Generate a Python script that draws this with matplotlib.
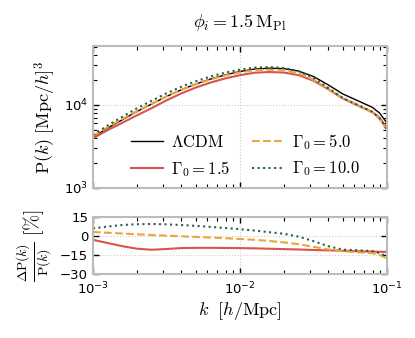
import numpy as np
import matplotlib
matplotlib.use("Agg")
import matplotlib.pyplot as plt

# log10(k [h/Mpc]) sample points
logk = [-3.0, -2.9, -2.8, -2.7, -2.6, -2.5, -2.4, -2.3, -2.2, -2.1, -2.0,
        -1.9, -1.8, -1.7, -1.6, -1.5, -1.4, -1.3, -1.2, -1.1, -1.05, -1.0]

# log10 of LCDM power spectrum
logP_lcdm = [3.61, 3.72, 3.82, 3.92, 4.01, 4.10, 4.18, 4.25, 4.31, 4.36, 4.40,
             4.43, 4.44, 4.435, 4.405, 4.34, 4.24, 4.13, 4.05, 3.97, 3.90, 3.78]

# relative difference w.r.t. LCDM [%]
dP_g15 = [-3.0, -5.5, -8.0, -10.0, -10.8, -10.2, -9.5, -9.3, -9.3, -9.4, -9.5,
          -9.7, -10.0, -10.3, -10.6, -11.0, -11.3, -11.6, -12.0, -12.3, -12.4, -12.5]
dP_g50 = [3.2, 2.6, 2.0, 1.4, 0.8, 0.3, -0.2, -0.7, -1.2, -1.7, -2.3,
          -3.0, -3.9, -5.0, -6.5, -8.5, -10.5, -12.0, -12.8, -13.5, -15.0, -17.5]
dP_g100 = [6.0, 7.5, 8.7, 9.3, 9.5, 9.2, 8.7, 8.0, 7.2, 6.3, 5.4,
           4.3, 3.0, 1.8, -0.5, -4.0, -8.0, -10.7, -11.2, -11.8, -13.5, -16.0]

plt.rcParams["mathtext.fontset"] = "cm"
plt.rcParams["font.size"] = 9

k = 10 ** np.array(logk)
P_lcdm = 10 ** np.array(logP_lcdm)

models = [
    (r"$\Gamma_0 = 1.5$", dP_g15, "#d9534f", "-"),
    (r"$\Gamma_0 = 5.0$", dP_g50, "#eaa639", "--"),
    (r"$\Gamma_0 = 10.0$", dP_g100, "#2f5d4f", ":"),
]

fig = plt.figure(figsize=(4.15, 3.38), dpi=100)
ax = fig.add_axes([0.224, 0.444, 0.7085, 0.42])
axr = fig.add_axes([0.224, 0.189, 0.7085, 0.169], sharex=ax)

ax.plot(k, P_lcdm, color="black", lw=1.0, label=r"$\Lambda\mathrm{CDM}$")
for label, dp, col, ls in models:
    ax.plot(k, P_lcdm * (1 + np.array(dp) / 100), color=col, ls=ls, lw=1.5, label=label)
    axr.plot(k, dp, color=col, ls=ls, lw=1.5)

ax.set_xscale("log")
ax.set_yscale("log")
ax.set_xlim(1e-3, 1e-1)
ax.set_ylim(1e3, 5.1e4)
ax.set_title(r"$\phi_i = 1.5\,\mathrm{M}_{\mathrm{Pl}}$", fontsize=13, pad=14)
ax.set_ylabel(r"$\mathrm{P}(k)\ [\mathrm{Mpc}/h]^3$", fontsize=13)
ax.tick_params(labelbottom=False)
ax.legend(ncol=2, frameon=False, loc="lower center", fontsize=12,
          handlelength=1.9, handletextpad=0.5, columnspacing=1.3,
          labelspacing=0.45, bbox_to_anchor=(0.52, -0.04))

axr.set_ylim(-30, 15)
axr.set_yticks([15, 0, -15, -30])
axr.set_xlabel(r"$k\ \ [h/\mathrm{Mpc}]$", fontsize=13, labelpad=2)
axr.set_ylabel(r"$\frac{\Delta\mathrm{P}(k)}{\mathrm{P}(k)}\ [\%]$", fontsize=14, labelpad=4)
axr.tick_params(axis="x", pad=5)

for a in (ax, axr):
    a.grid(True, which="major", color="#cccccc", lw=0.8, ls=":")
    a.tick_params(which="both", direction="in", top=True, right=True, labelsize=9.5)
    a.tick_params(which="major", length=4, width=1)
    a.tick_params(which="minor", length=3, width=0.8)
    for s in a.spines.values():
        s.set_color("#bbbbbb")
        s.set_linewidth(1.5)

fig.savefig("out.png", dpi=100)
